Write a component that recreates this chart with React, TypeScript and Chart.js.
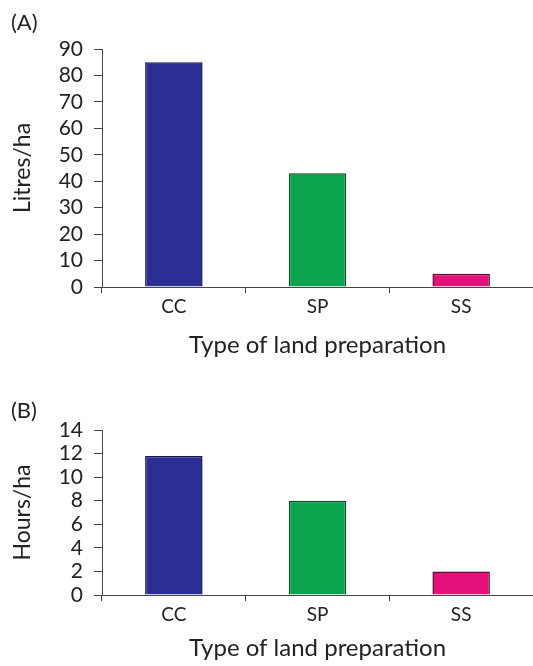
import React, { useEffect, useRef } from "react";
import { Chart, registerables } from "chart.js";

Chart.register(...registerables);

const categories = ["CC", "SP", "SS"];
const litresValues = [85, 43, 5];
const hoursValues = [11.8, 8, 2];
const barColors = ["#2B2E95", "#0BA34E", "#E2127A"];
const barBorders = ["#15174F", "#0B4A25", "#5E0832"];
const litresMax = 90;
const litresStep = 10;
const hoursMax = 14;
const hoursStep = 2;
const xTitle = "Type of land preparation";

const FONT = "Lato, 'DejaVu Sans', sans-serif";
const INK = "#222";

type PanelProps = {
  values: number[];
  yTitle: string;
  yMax: number;
  yStep: number;
  height: number;
  padTop: number;
  xAxisHeight: number;
  titlePadBottom: number;
};

function Panel(p: PanelProps) {
  const ref = useRef<HTMLCanvasElement | null>(null);
  useEffect(() => {
    if (!ref.current) return;
    const chart = new Chart(ref.current, {
      type: "bar",
      data: {
        labels: categories,
        datasets: [
          {
            data: p.values,
            backgroundColor: barColors,
            borderColor: barBorders,
            borderWidth: 1.5,
            barPercentage: 0.4,
            categoryPercentage: 1,
          },
        ],
      },
      options: {
        responsive: false,
        animation: false,
        layout: { padding: { top: p.padTop, left: 0, right: 0, bottom: 0 } },
        plugins: { legend: { display: false }, tooltip: { enabled: false } },
        scales: {
          x: {
            offset: true,
            grid: {
              offset: true,
              drawOnChartArea: false,
              drawTicks: true,
              tickLength: 6,
              color: "#444",
            },
            border: { display: true, color: "#444", width: 1 },
            ticks: { color: INK, font: { family: FONT, size: 19 }, padding: 2 },
            title: {
              display: true,
              text: xTitle,
              color: INK,
              font: { family: FONT, size: 24 },
              padding: { top: 0, bottom: p.titlePadBottom },
            },
            afterFit: (s: any) => {
              s.height = p.xAxisHeight;
            },
          },
          y: {
            min: 0,
            max: p.yMax,
            grid: {
              drawOnChartArea: false,
              drawTicks: true,
              tickLength: 8,
              color: "#444",
            },
            border: { display: true, color: "#444", width: 1 },
            ticks: {
              stepSize: p.yStep,
              autoSkip: false,
              color: INK,
              font: { family: FONT, size: 21 },
              padding: 11,
            },
            title: {
              display: true,
              text: p.yTitle,
              color: INK,
              font: { family: FONT, size: 23 },
              padding: { top: 9, bottom: 0 },
            },
            afterFit: (s: any) => {
              s.width = 102;
            },
          },
        },
      },
    });
    return () => chart.destroy();
  }, []);
  return (
    <canvas
      ref={ref}
      width={533}
      height={p.height}
      style={{ display: "block", width: 533, height: p.height }}
    />
  );
}

const labelStyle: React.CSSProperties = {
  position: "absolute",
  left: 11,
  fontFamily: FONT,
  fontSize: 22,
  color: INK,
  lineHeight: "24px",
};

export default function App() {
  return (
    <div
      style={{
        position: "absolute",
        left: 0,
        top: 0,
        width: 533,
        height: 666,
        background: "#fff",
        overflow: "hidden",
      }}
    >
      <div style={{ position: "absolute", left: 0, top: 0 }}>
        <Panel
          values={litresValues}
          yTitle="Litres/ha"
          yMax={litresMax}
          yStep={litresStep}
          height={360}
          padTop={49}
          xAxisHeight={73}
          titlePadBottom={0}
        />
      </div>
      <div style={{ position: "absolute", left: 0, top: 380 }}>
        <Panel
          values={hoursValues}
          yTitle="Hours/ha"
          yMax={hoursMax}
          yStep={hoursStep}
          height={286}
          padTop={50}
          xAxisHeight={71}
          titlePadBottom={3}
        />
      </div>
      <div style={{ ...labelStyle, top: 10 }}>(A)</div>
      <div style={{ ...labelStyle, top: 398 }}>(B)</div>
    </div>
  );
}
